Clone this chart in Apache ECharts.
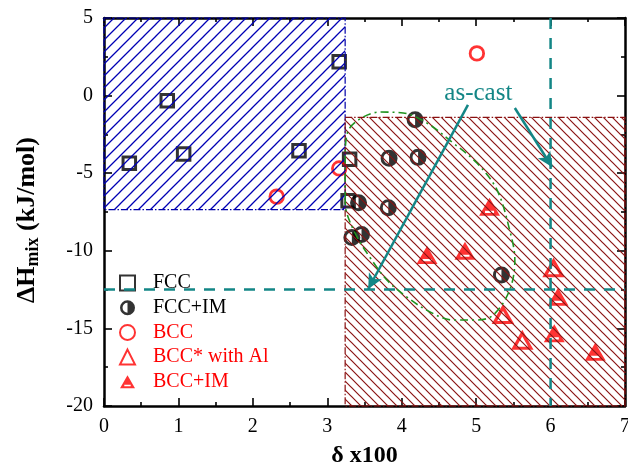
<!DOCTYPE html>
<html>
<head>
<meta charset="utf-8">
<script src="https://cdn.jsdelivr.net/npm/echarts@6/dist/echarts.min.js"></script>
<style>
  html, body { margin: 0; padding: 0; background: #fff; }
  #chart { width: 628px; height: 470px; }
</style>
</head>
<body>
<div id="chart"></div>
<script>
// Phase-formation map: mixing enthalpy vs. atomic size difference
const fccPts   = [[0.34, -4.36], [0.85, -0.33], [1.07, -3.76], [2.62, -3.55], [3.16, 2.18], [3.30, -4.1], [3.28, -6.77]];
const fccImPts = [[4.18, -1.55], [3.83, -4.04], [4.22, -3.98], [3.42, -6.9], [3.82, -7.22], [3.33, -9.15], [3.46, -8.95], [5.34, -11.56]];
const bccPts   = [[2.32, -6.51], [3.16, -4.69], [5.01, 2.72]];
const bccAlPts = [[5.36, -14.14], [5.62, -15.79], [6.04, -11.13]];
const bccImPts = [[5.18, -7.16], [4.34, -10.27], [4.85, -9.99], [6.10, -12.96], [6.05, -15.32], [6.60, -16.5]];

// Hatched regions: [xMin, yMin, xMax, yMax]
const fccRegion = [0, -7.35, 3.24, 5];
const bccRegion = [3.24, -20, 7, -1.4];

// Dashed guide lines
const guideH = [[0, -12.5], [7, -12.5]];
const guideV = [[6, 5], [6, -20]];

// Outline of the as-cast group
const loopPts = [[3.24, -6.7], [3.24, -4.15], [3.27, -2.4], [3.44, -1.5], [3.71, -1.06], [4.02, -1.12], [4.34, -1.77],
  [4.69, -3.05], [5.01, -4.34], [5.28, -6.08], [5.45, -8.66], [5.52, -10.59], [5.45, -12.53], [5.23, -14.14],
  [5.01, -14.46], [4.69, -14.46], [4.38, -13.94], [4.07, -12.98], [3.80, -11.88], [3.57, -10.40], [3.40, -9.11],
  [3.26, -7.56], [3.24, -6.7]];

// Annotation arrows [from, to] and caption
const arrows = [[[4.89, -0.6], [3.55, -12.46]], [[5.52, -0.8], [6.02, -4.6]]];
const caption = { text: 'as-cast', at: [5.03, 0.17] };

const SERIF = '"Liberation Serif", "Times New Roman", serif';
const TEAL = '#138686';
const RED = '#ff0000';

function hatch(color, step, width, forward) {
  const c = document.createElement('canvas');
  c.width = c.height = step;
  const g = c.getContext('2d');
  g.strokeStyle = color;
  g.lineWidth = width;
  g.beginPath();
  if (forward) {
    g.moveTo(-step, step); g.lineTo(step, -step);
    g.moveTo(0, step * 2); g.lineTo(step * 2, 0);
    g.moveTo(-step, 2 * step); g.lineTo(2 * step, -step);
  } else {
    g.moveTo(-step, -step); g.lineTo(2 * step, 2 * step);
    g.moveTo(-step, 0); g.lineTo(step, 2 * step);
    g.moveTo(0, -step); g.lineTo(2 * step, step);
  }
  g.stroke();
  return c;
}

const halfCircle = 'path://M10 0 A10 10 0 1 1 10 20 A10 10 0 1 1 10 0 Z M10 3.4 A6.6 6.6 0 0 0 10 16.6 L10 3.4 Z';
const barTriangle = 'path://M10.5 0 L21 18 L0 18 Z M6 13 L6 15.2 L15 15.2 L15 13 Z';

function regionSeries(name, rect, color, pattern) {
  return {
    type: 'custom', name: name, z: 3, silent: true,
    data: [rect],
    encode: { x: [0, 2], y: [1, 3] },
    renderItem: function (params, api) {
      const a = api.coord([api.value(0), api.value(3)]);
      const b = api.coord([api.value(2), api.value(1)]);
      return {
        type: 'rect',
        shape: { x: a[0], y: a[1], width: b[0] - a[0], height: b[1] - a[1] },
        style: { fill: { image: pattern, repeat: 'repeat' }, stroke: color, lineWidth: 1.2, lineDash: [7, 2, 1.5, 2] }
      };
    }
  };
}

const chart = echarts.init(document.getElementById('chart'), null, { renderer: 'canvas' });

const axisCommon = {
  type: 'value',
  axisLine: { show: true, onZero: false, lineStyle: { color: '#000', width: 2.5 } },
  axisTick: { show: true, inside: true, length: 8, lineStyle: { color: '#000', width: 1.6 } },
  minorTick: { show: true, splitNumber: 2, length: 4, lineStyle: { color: '#000', width: 1.6 } },
  splitLine: { show: false }
};

chart.setOption({
  animation: false,
  backgroundColor: '#fff',
  grid: { left: 104, right: 3, top: 18, bottom: 64, outerBoundsMode: 'none', containLabel: false },
  legend: {
    orient: 'vertical', left: 114, top: 268,
    itemWidth: 15, itemHeight: 15, itemGap: 4.7,
    textStyle: { fontFamily: SERIF, fontSize: 20, lineHeight: 18, padding: [0, 0, 0, 13] },
    data: [
      { name: 'FCC', textStyle: { color: '#000' } },
      { name: 'FCC+IM', textStyle: { color: '#000' } },
      { name: 'BCC', textStyle: { color: RED } },
      { name: 'BCC* with Al', textStyle: { color: RED } },
      { name: 'BCC+IM', textStyle: { color: RED } }
    ]
  },
  xAxis: [
    Object.assign({}, axisCommon, {
      min: 0, max: 7, interval: 1, position: 'bottom',
      name: 'δ x100', nameLocation: 'middle', nameGap: 38,
      nameTextStyle: { fontFamily: SERIF, fontSize: 24, fontWeight: 'bold', color: '#000' },
      axisLabel: { fontFamily: SERIF, fontSize: 20, color: '#000', margin: 11 }
    }),
    Object.assign({}, axisCommon, {
      min: 0, max: 7, interval: 1, position: 'top', axisLabel: { show: false }
    })
  ],
  yAxis: [
    Object.assign({}, axisCommon, {
      min: -20, max: 5, interval: 5, position: 'left',
      name: '{b|ΔH}{s|mix}{b| (kJ/mol)}', nameLocation: 'middle', nameGap: 62,
      nameTextStyle: {
        color: '#000', padding: [0, 16, 0, 0],
        rich: {
          b: { fontFamily: SERIF, fontSize: 26, fontWeight: 'bold', color: '#000', lineHeight: 30 },
          s: { fontFamily: SERIF, fontSize: 18, fontWeight: 'bold', color: '#000', lineHeight: 30, padding: [12, 0, 0, 0] }
        }
      },
      axisLabel: { fontFamily: SERIF, fontSize: 20, color: '#000', margin: 11 }
    }),
    Object.assign({}, axisCommon, {
      min: -20, max: 5, interval: 5, position: 'right', axisLabel: { show: false }
    })
  ],
  series: [
    {
      name: 'FCC', type: 'scatter', z: 2, data: fccPts,
      symbol: 'rect', symbolSize: 12.5,
      itemStyle: { color: 'rgba(255,255,255,0)', borderColor: '#000', borderWidth: 3 }
    },
    {
      name: 'FCC+IM', type: 'scatter', z: 2, data: fccImPts,
      symbol: halfCircle, symbolSize: 17,
      itemStyle: { color: '#000' }
    },
    {
      name: 'BCC', type: 'scatter', z: 2, data: bccPts,
      symbol: 'circle', symbolSize: 13.5,
      itemStyle: { color: 'rgba(255,255,255,0)', borderColor: RED, borderWidth: 2.8 }
    },
    {
      name: 'BCC* with Al', type: 'scatter', z: 2, data: bccAlPts,
      symbol: 'triangle', symbolSize: [17, 15],
      itemStyle: { color: 'rgba(255,255,255,0)', borderColor: RED, borderWidth: 3.2 }
    },
    {
      name: 'BCC+IM', type: 'scatter', z: 2, data: bccImPts,
      symbol: barTriangle, symbolSize: [21, 18],
      itemStyle: { color: RED }
    },
    regionSeries('fccRegion', fccRegion, '#0000a8', hatch('#0000b4', 12, 1.3, true)),
    regionSeries('bccRegion', bccRegion, '#8b1010', hatch('#8b1414', 9, 1.2, false)),
    {
      name: 'loop', type: 'line', z: 4, data: loopPts, smooth: 0.35,
      symbol: 'none', silent: true,
      lineStyle: { color: '#1f931f', width: 1.6, type: [8, 4, 2, 4] }
    },
    {
      name: 'guideH', type: 'line', z: 4, data: guideH, symbol: 'none', silent: true,
      lineStyle: { color: TEAL, width: 2.5, type: [11, 9] }
    },
    {
      name: 'guideV', type: 'line', z: 4, data: guideV, symbol: 'none', silent: true,
      lineStyle: { color: TEAL, width: 2.5, type: [11, 9] },
      markLine: {
        silent: true, symbol: ['none', 'arrow'], symbolSize: [11, 15],
        label: { show: false },
        lineStyle: { color: TEAL, width: 2.5, type: 'solid' },
        data: arrows.map(function (a) { return [{ coord: a[0] }, { coord: a[1] }]; })
      }
    },
    {
      name: 'caption', type: 'custom', z: 5, silent: true,
      data: [caption.at],
      renderItem: function (params, api) {
        const p = api.coord([api.value(0), api.value(1)]);
        return {
          type: 'text',
          style: {
            x: p[0], y: p[1], text: caption.text,
            fill: TEAL, font: '25px ' + SERIF,
            textAlign: 'center', textVerticalAlign: 'middle'
          }
        };
      }
    }
  ]
});
</script>
</body>
</html>
